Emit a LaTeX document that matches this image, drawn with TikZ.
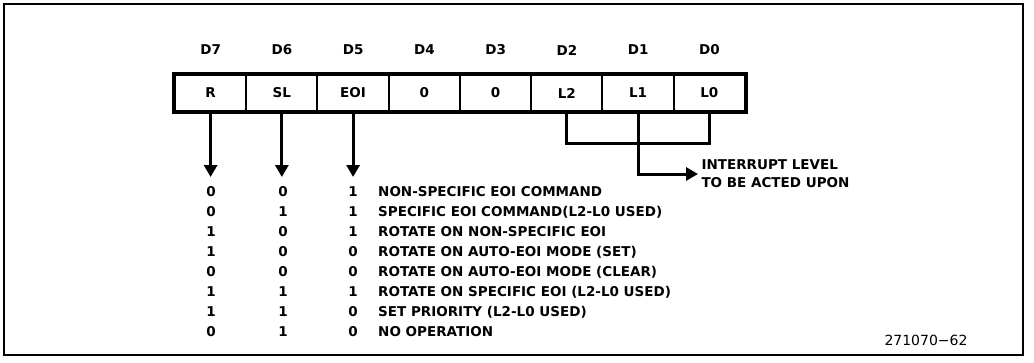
\documentclass[tikz,border=0pt]{standalone}
\usepackage{fontspec}
\setmainfont{DejaVu Sans}
\usetikzlibrary{arrows.meta,positioning}

\begin{document}
\begin{tikzpicture}[x=1pt,y=-1pt,
  cell/.style={draw,line width=2pt,minimum width=71.25pt,minimum height=36pt,inner sep=0pt,font=\bfseries\fontsize{13.5}{16}\selectfont},
  bitname/.style={font=\bfseries\fontsize{13.5}{16}\selectfont},
  rowtxt/.style={font=\bfseries\fontsize{13.5}{16}\selectfont,inner sep=0pt},
  flow/.style={line width=3pt,-{Triangle[width=13pt,length=12pt]}},
  bracket/.style={line width=3pt}]
\useasboundingbox (0,0) rectangle (1034,362);
\draw[line width=1.5pt] (4,4) rectangle (1023,355);

% register bits
\foreach \b/\t [count=\i from 0] in {7/R,6/SL,5/EOI,4/0,3/0,2/L2,1/L1,0/L0}
{
  \node[cell] (c\b) at (210.6+71.25*\i,93) {\t};
  \node[bitname] (d\b) at (210.6+71.25*\i,50) {D\b};
}
\draw[line width=4pt] (c7.north west) rectangle (c0.south east);

% R, SL, EOI downwards
\coordinate (tips) at (0,177);
\foreach \b in {7,6,5}
  \draw[flow] (c\b.south) -- (c\b |- tips);

% the table
\foreach \r/\s/\e/\txt [count=\k from 0] in {
  0/0/1/NON-SPECIFIC EOI COMMAND,
  0/1/1/SPECIFIC EOI COMMAND(L2-L0 USED),
  1/0/1/ROTATE ON NON-SPECIFIC EOI,
  1/0/0/ROTATE ON AUTO-EOI MODE (SET),
  0/0/0/ROTATE ON AUTO-EOI MODE (CLEAR),
  1/1/1/ROTATE ON SPECIFIC EOI (L2-L0 USED),
  1/1/0/SET PRIORITY (L2-L0 USED),
  0/1/0/NO OPERATION}
{
  \node[rowtxt] (r\k) at (211,192+20*\k) {\r};
  \node[rowtxt] (s\k) at (283,192+20*\k) {\s};
  \node[rowtxt] (e\k) at (353,192+20*\k) {\e};
  \node[rowtxt,anchor=west] (m\k) at (378,192+20*\k) {\txt};
}

% L2-L0 bracket
\coordinate (join) at (0,143);
\draw[bracket] (c2.south) -- (c2 |- join) -- (c0 |- join) -- (c0.south);
\node[font=\bfseries\fontsize{13.5}{18}\selectfont,anchor=west,align=left] (lvl) at (698,174) {INTERRUPT LEVEL\\TO BE ACTED UPON};
\draw[flow] (c1.south) |- (lvl.west);

\node[font=\fontsize{14}{16}\selectfont] (fig) at (926,340) {271070−62};
\end{tikzpicture}
\end{document}
